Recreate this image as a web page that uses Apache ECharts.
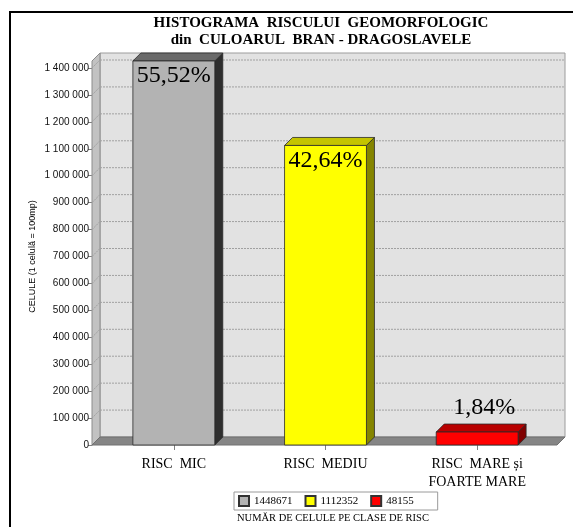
<!DOCTYPE html>
<html><head><meta charset="utf-8">
<script src="https://cdn.jsdelivr.net/npm/echarts@6.0.0/dist/echarts.min.js"></script>
<style>html,body{margin:0;padding:0;background:#fff}#c{width:573px;height:527px}</style>
</head><body><div id="c"></div><script>
// ---- data ----
const categories = ['RISC  MIC', 'RISC  MEDIU', 'RISC  MARE și\nFOARTE MARE'];
const cellCounts = [1448671, 1112352, 48155];
const percentLabels = ['55,52%', '42,64%', '1,84%'];
const legendNames = ['1448671', '1112352', '48155'];
const yTicks = [0, 100000, 200000, 300000, 400000, 500000, 600000, 700000, 800000, 900000, 1000000, 1100000, 1200000, 1300000, 1400000];
const titleLines = ['HISTOGRAMA  RISCULUI  GEOMORFOLOGIC', 'din  CULOARUL  BRAN - DRAGOSLAVELE'];
const yAxisName = 'CELULE (1 celulă = 100mp)';
const legendCaption = 'NUMĂR DE CELULE PE CLASE DE RISC';

// ---- styles ----
const barFaces = [
  {front: '#b3b3b3', top: '#6a6a6a', side: '#2e2e2e'},
  {front: '#ffff00', top: '#c4c400', side: '#858500'},
  {front: '#ff0000', top: '#b80000', side: '#800000'}
];
const DEPTH = 8;
const SERIF = '"Liberation Serif", "Times New Roman", serif';
const SANS = '"Liberation Sans", Arial, sans-serif';

const chart = echarts.init(document.getElementById('c'), null, {renderer: 'canvas'});

function fmt(v) { return String(v).replace(/\B(?=(\d{3})+(?!\d))/g, ' '); }

function wallRender(params, api) {
  const cs = params.coordSys;
  const D = DEPTH;
  const yBot = api.coord([0, 0])[1];
  const yTop = api.coord([0, yTicks[yTicks.length - 1]])[1] - 7;
  const xL = cs.x - 6;
  const xR = cs.x + cs.width + 4;
  const children = [];
  children.push({type: 'rect', shape: {x: xL + D, y: yTop - D, width: xR - xL, height: yBot - yTop},
    style: {fill: '#e2e2e2', stroke: '#9c9c9c', lineWidth: 1}});
  children.push({type: 'polygon', shape: {points: [[xL, yTop], [xL + D, yTop - D], [xL + D, yBot - D], [xL, yBot]]},
    style: {fill: '#c2c2c2', stroke: '#8c8c8c', lineWidth: 1}});
  yTicks.forEach(function (v) {
    if (v === 0) return;
    const y = api.coord([0, v])[1];
    children.push({type: 'line', shape: {x1: xL + D, y1: y - D, x2: xR + D, y2: y - D},
      style: {stroke: '#a0a0a0', lineWidth: 1, lineDash: [2, 1]}});
    children.push({type: 'line', shape: {x1: xL, y1: y, x2: xL + D, y2: y - D},
      style: {stroke: '#a0a0a0', lineWidth: 1, lineDash: [2, 1]}});
  });
  children.push({type: 'polygon', shape: {points: [[xL, yBot], [xL + D, yBot - D], [xR + D, yBot - D], [xR, yBot]]},
    style: {fill: '#858585', stroke: '#707070', lineWidth: 1}});
  // y-axis title, placed left of the tick labels, centred on the axis
  const yMid = (api.coord([0, 0])[1] + api.coord([0, yTicks[yTicks.length - 1]])[1]) / 2;
  children.push({type: 'text', x: cs.x - 65, y: yMid, rotation: Math.PI / 2,
    style: {text: yAxisName, align: 'center', verticalAlign: 'middle', font: '9px ' + SANS, fill: '#000'}});
  return {type: 'group', children: children};
}

function makeBarRender(idx) {
  return function (params, api) {
    const D = DEPTH;
    const cat = api.value(0);
    const val = Math.min(api.value(1), 1426000);
    const p0 = api.coord([cat, 0]);
    const p1 = api.coord([cat, val]);
    const w = api.size([1, 0])[0] * 0.54;
    const x0 = p0[0] - w / 2, x1 = p0[0] + w / 2, yb = p0[1], yt = p1[1];
    const f = barFaces[idx];
    const stroke = '#2a2a2a';
    const children = [
      {type: 'polygon', shape: {points: [[x1, yt], [x1 + D, yt - D], [x1 + D, yb - D], [x1, yb]]},
        style: {fill: f.side, stroke: stroke, lineWidth: 0.8}},
      {type: 'polygon', shape: {points: [[x0, yt], [x1, yt], [x1 + D, yt - D], [x0 + D, yt - D]]},
        style: {fill: f.top, stroke: stroke, lineWidth: 0.8}},
      {type: 'rect', shape: {x: x0, y: yt, width: w, height: yb - yt},
        style: {fill: f.front, stroke: stroke, lineWidth: 0.8}}
    ];
    const inside = (yb - yt) > 40;
    children.push({type: 'text', style: {
      text: percentLabels[idx],
      x: inside ? p0[0] : p0[0] + D / 2 + 3,
      y: inside ? yt + 15 : yt - D - 16,
      align: 'center', verticalAlign: 'middle',
      font: '24px ' + SERIF, fill: '#000'
    }});
    return {type: 'group', children: children};
  };
}

const series = [{
  type: 'custom', name: '__walls', silent: true, z: 1,
  data: [[0, 0]], renderItem: wallRender, clip: false, tooltip: {show: false}
}];
cellCounts.forEach(function (v, i) {
  series.push({
    type: 'custom', name: legendNames[i], z: 5, clip: false,
    itemStyle: {color: barFaces[i].front, borderColor: '#333', borderWidth: 1},
    data: [[i, v]], renderItem: makeBarRender(i)
  });
});

chart.setOption({
  animation: false,
  backgroundColor: '#fff',
  title: {
    text: titleLines.join('\n'), left: 316, top: 10, textAlign: 'center',
    textStyle: {fontFamily: SERIF, fontWeight: 'bold', fontSize: 15, lineHeight: 17, color: '#000'}
  },
  grid: {left: 98, right: 20, top: 68, bottom: 82, containLabel: false},
  xAxis: {
    type: 'category', data: categories, boundaryGap: true,
    axisLine: {show: false},
    axisTick: {show: true, alignWithLabel: true, length: 5, lineStyle: {color: '#808080'}},
    axisLabel: {fontFamily: SERIF, fontSize: 14, lineHeight: 18, color: '#000', margin: 10, interval: 0},
    splitLine: {show: false}
  },
  yAxis: {
    type: 'value', min: 0, max: 1400000, interval: 100000, offset: 6,
    axisLine: {show: true, lineStyle: {color: '#8c8c8c'}},
    axisTick: {show: true, length: 4, lineStyle: {color: '#808080'}},
    axisLabel: {fontFamily: SANS, fontSize: 10, color: '#111', margin: 3, formatter: fmt},
    splitLine: {show: false}
  },
  legend: {
    data: legendNames, left: 234, top: 492, orient: 'horizontal',
    icon: 'rect', itemWidth: 10, itemHeight: 10, itemGap: 12,
    padding: [3, 24, 3, 4], borderColor: '#9a9a9a', borderWidth: 1, backgroundColor: '#fff',
    textStyle: {fontFamily: SERIF, fontSize: 11, color: '#000'},
    selectedMode: false
  },
  graphic: [
    {type: 'rect', silent: true, z: 0, shape: {x: 10, y: 12, width: 700, height: 700},
      style: {fill: 'none', stroke: '#000', lineWidth: 2}},
    {type: 'text', silent: true, left: 237, top: 513,
      style: {text: legendCaption, font: '10.5px ' + SERIF, fill: '#000'}}
  ],
  series: series
});
</script></body></html>
